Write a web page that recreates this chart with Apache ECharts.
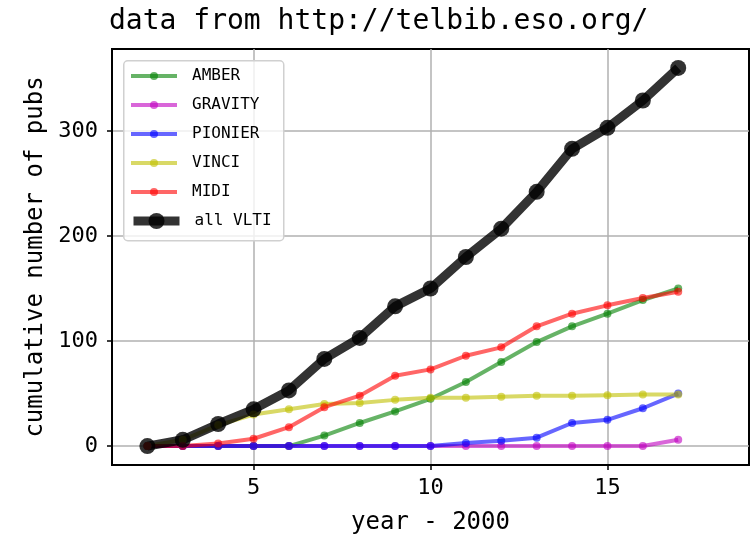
<!DOCTYPE html>
<html><head><meta charset="utf-8">
<script src="https://cdn.jsdelivr.net/npm/echarts@6/dist/echarts.min.js"></script>
<style>html,body{margin:0;padding:0;background:#fff}#c{width:756px;height:539px}</style>
</head><body><div id="c"></div>
<script>
const years   = [2,3,4,5,6,7,8,9,10,11,12,13,14,15,16,17];
const amber   = [0,0,0,0,0,10,22,33,45,61,80,99,114,126,139,150];
const gravity = [0,0,0,0,0,0,0,0,0,0,0,0,0,0,0,6];
const pionier = [0,0,0,0,0,0,0,0,0,3,5,8,22,25,36,50];
const vinci   = [0,6,20,30,35,40,41,44,46,46,47,48,48,48.5,49,49];
const midi    = [0,0,2.5,7,18,37,48,67,73,86,94,114,126,134,141,147];
const allVlti = [0,6,21,35,53,83,103,133,150,180,207,242,283,303,329,360];
const xTicks = [5,10,15];
const yTicks = [0,100,200,300];
const FONT = 'DejaVu Sans Mono';

function pairs(v){ return years.map((y,i)=>[y,v[i]]); }
function thin(name, vals, color){
  return {name, type:'line', data:pairs(vals), symbol:'circle', symbolSize:8,
    lineStyle:{color, width:4, opacity:0.6}, itemStyle:{color, opacity:0.6},
    emphasis:{disabled:true}};
}
const legendText = {fontFamily:FONT, fontSize:16, color:'#000', padding:[0,0,0,10]};
const chart = echarts.init(document.getElementById('c'), null, {renderer:'canvas'});
chart.setOption({
  animation:false,
  textStyle:{fontFamily:FONT},
  title:{text:'data from http://telbib.eso.org/', left:104, top:3,
    textStyle:{fontFamily:FONT, fontSize:28, fontWeight:'normal', color:'#000'}},
  grid:{left:112, right:7, top:49, bottom:74, show:true, borderColor:'#000', borderWidth:2,
    outerBoundsMode:'none', containLabel:false},
  graphic:[{type:'rect', left:123, top:60, z:3,
    shape:{width:160, height:180, r:4},
    style:{fill:'rgba(255,255,255,0.8)', stroke:'#d0d0d0', lineWidth:1.5}}],
  legend:[
    {orient:'vertical', left:129, top:68, itemWidth:46, itemHeight:10, itemGap:13, padding:0, z:5,
     textStyle:legendText,
     data:['AMBER','GRAVITY','PIONIER','VINCI','MIDI'].map(n=>({name:n, lineStyle:{width:4, opacity:0.6}, itemStyle:{opacity:0.6}}))},
    {orient:'vertical', left:129, top:213, itemWidth:46, itemHeight:20, padding:0, z:5,
     textStyle:legendText,
     data:[{name:'all VLTI', lineStyle:{width:9, opacity:0.8}, itemStyle:{opacity:0.8}}]}
  ],
  xAxis:{type:'value', min:1, max:19, name:'year - 2000', nameLocation:'middle', nameGap:46,
    nameTextStyle:{fontFamily:FONT, fontSize:24, color:'#000'},
    axisLine:{onZero:false, lineStyle:{color:'#000', width:2}},
    axisTick:{show:true, customValues:xTicks, length:5, lineStyle:{color:'#000', width:1.5}},
    axisLabel:{customValues:xTicks, fontFamily:FONT, fontSize:22, color:'#000', margin:12},
    splitLine:{show:true, lineStyle:{color:'#b0b0b0', width:1.5}}},
  yAxis:{type:'value', min:-18, max:378, name:'cumulative number of pubs', nameLocation:'middle', nameGap:64,
    nameTextStyle:{fontFamily:FONT, fontSize:24, color:'#000'},
    axisLine:{onZero:false, lineStyle:{color:'#000', width:2}},
    axisTick:{show:true, customValues:yTicks, length:5, lineStyle:{color:'#000', width:1.5}},
    axisLabel:{customValues:yTicks, fontFamily:FONT, fontSize:22, color:'#000', margin:14},
    splitLine:{show:true, lineStyle:{color:'#b0b0b0', width:1.5}}},
  series:[
    thin('AMBER', amber, '#008000'),
    thin('GRAVITY', gravity, '#bf00bf'),
    thin('PIONIER', pionier, '#0000ff'),
    thin('VINCI', vinci, '#bfbf00'),
    thin('MIDI', midi, '#ff0000'),
    {name:'all VLTI', type:'line', data:pairs(allVlti), symbol:'circle', symbolSize:16,
      lineStyle:{color:'#000', width:9, opacity:0.8}, itemStyle:{color:'#000', opacity:0.8},
      emphasis:{disabled:true}}
  ]
});
</script></body></html>
